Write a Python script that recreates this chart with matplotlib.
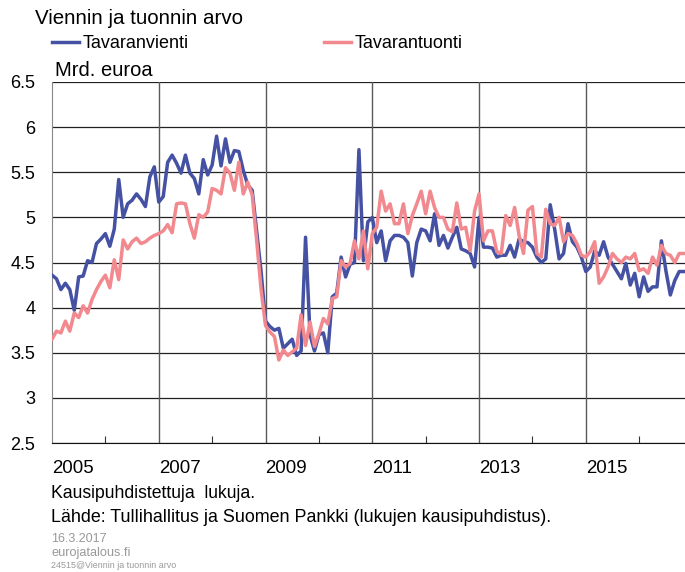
import numpy as np
import matplotlib
matplotlib.use("Agg")
import matplotlib.pyplot as plt
from matplotlib.ticker import FixedLocator

plt.rcParams['font.family'] = ['Liberation Sans', 'DejaVu Sans']

# monthly values, Jan 2005 ->
start_year = 2005
vienti = [4.36, 4.32, 4.20, 4.27, 4.20, 3.97, 4.34, 4.35, 4.52, 4.50, 4.71, 4.76,
          4.82, 4.68, 4.87, 5.42, 5.00, 5.15, 5.19, 5.26, 5.20, 5.12, 5.45, 5.56,
          5.17, 5.23, 5.61, 5.69, 5.60, 5.49, 5.69, 5.49, 5.43, 5.26, 5.64, 5.47,
          5.58, 5.90, 5.57, 5.87, 5.61, 5.74, 5.73, 5.52, 5.36, 5.30, 4.85, 4.40,
          3.85, 3.79, 3.75, 3.77, 3.55, 3.60, 3.65, 3.47, 3.52, 4.78, 3.70, 3.52,
          3.70, 3.72, 3.50, 4.12, 4.16, 4.56, 4.34, 4.48, 4.50, 5.75, 4.52, 4.95,
          5.00, 4.72, 4.85, 4.52, 4.74, 4.80, 4.80, 4.78, 4.72, 4.35, 4.72, 4.87,
          4.85, 4.74, 5.04, 4.69, 4.80, 4.66, 4.78, 4.89, 4.65, 4.63, 4.60, 4.45,
          5.00, 4.67, 4.67, 4.66, 4.56, 4.58, 4.58, 4.69, 4.56, 4.76, 4.73, 4.72,
          4.67, 4.56, 4.50, 4.54, 5.14, 4.87, 4.54, 4.60, 4.93, 4.73, 4.67, 4.56,
          4.40, 4.45, 4.63, 4.58, 4.73, 4.56, 4.48, 4.40, 4.32, 4.49, 4.25, 4.38,
          4.12, 4.34, 4.18, 4.23, 4.23, 4.74, 4.41, 4.14, 4.30, 4.40, 4.40]
tuonti = [3.65, 3.74, 3.72, 3.85, 3.74, 3.94, 3.89, 4.02, 3.94, 4.09, 4.20, 4.29,
          4.36, 4.22, 4.53, 4.31, 4.75, 4.65, 4.73, 4.77, 4.71, 4.73, 4.77, 4.80,
          4.82, 4.85, 4.92, 4.83, 5.15, 5.16, 5.15, 4.93, 4.77, 5.03, 5.00, 5.06,
          5.32, 5.30, 5.26, 5.55, 5.49, 5.30, 5.61, 5.26, 5.39, 5.25, 4.75, 4.20,
          3.80, 3.73, 3.68, 3.42, 3.53, 3.47, 3.51, 3.55, 3.92, 3.58, 3.84, 3.57,
          3.71, 3.88, 3.82, 4.10, 4.12, 4.52, 4.45, 4.49, 4.74, 4.54, 4.85, 4.43,
          4.82, 4.89, 5.29, 5.07, 5.15, 4.93, 4.93, 5.15, 4.82, 5.02, 5.15, 5.29,
          5.04, 5.29, 5.11, 5.00, 5.00, 4.87, 4.84, 5.16, 4.87, 4.89, 4.63, 5.07,
          5.26, 4.74, 4.85, 4.85, 4.62, 4.60, 5.02, 4.91, 5.11, 4.80, 4.60, 5.08,
          5.12, 4.60, 4.56, 5.09, 4.93, 4.91, 5.00, 4.73, 4.82, 4.80, 4.71, 4.58,
          4.56, 4.62, 4.73, 4.27, 4.34, 4.45, 4.60, 4.54, 4.50, 4.56, 4.54, 4.60,
          4.41, 4.43, 4.38, 4.56, 4.47, 4.69, 4.60, 4.58, 4.50, 4.60, 4.60]
year_labels = ['2005', '2007', '2009', '2011', '2013', '2015']
y_ticks = [2.5, 3, 3.5, 4, 4.5, 5, 5.5, 6, 6.5]

W, H = 685, 572
fig = plt.figure(figsize=(W / 100, H / 100), dpi=100)
ax = fig.add_axes([52 / W, 1 - 443 / H, (W - 52) / W, (443 - 82) / H])

x = start_year + np.arange(len(vienti)) / 12
l1, = ax.plot(x, vienti, color='#4552A3', lw=2.5, solid_joinstyle='round', zorder=3)
l2, = ax.plot(x, tuonti, color='#F2898E', lw=2.5, solid_joinstyle='round', zorder=4)

ax.set_xlim(start_year, start_year + 142.3 / 12)
ax.set_ylim(2.5, 6.5)

ax.set_yticks(y_ticks)
ax.set_yticklabels(['%g' % v for v in y_ticks])
ax.tick_params(axis='y', length=0, pad=12, labelsize=13)

major = [int(s) for s in year_labels]
ax.xaxis.set_major_locator(FixedLocator(major))
ax.set_xticklabels(year_labels, ha='left')
ax.xaxis.set_minor_locator(FixedLocator([2006, 2008, 2010, 2012, 2014, 2016]))
ax.tick_params(axis='x', which='major', length=0, pad=12, labelsize=13.4)
ax.tick_params(axis='x', which='minor', direction='in', length=5, width=0.8, color='#333333')

for v in y_ticks:
    ax.axhline(v, color='#222222', lw=0.9, zorder=1)
for yr in major[1:]:
    ax.axvline(yr, color='#5a5a5a', lw=1.0, zorder=1)

for s in ['top', 'right']:
    ax.spines[s].set_visible(False)
ax.spines['left'].set_color('#888888')
ax.spines['bottom'].set_color('#111111')

fig.text(35 / W, 1 - 18 / H, 'Viennin ja tuonnin arvo', fontsize=14.8, va='center', ha='left')
fig.legend([l1, l2], ['Tavaranvienti', 'Tavarantuonti'], ncol=2, frameon=False,
           loc='upper left', bbox_to_anchor=(52 / W, 1 - 35 / H), borderpad=0,
           borderaxespad=0, fontsize=13, handlelength=1.5, handletextpad=0.2,
           columnspacing=7.5)
fig.text(55 / W, 1 - 71 / H, 'Mrd. euroa', fontsize=14.5, va='center', ha='left')

fig.text(51 / W, 1 - 494 / H, 'Kausipuhdistettuja  lukuja.', fontsize=12.7, va='center')
fig.text(51 / W, 1 - 517 / H, 'Lähde: Tullihallitus ja Suomen Pankki (lukujen kausipuhdistus).',
         fontsize=12.9, va='center')
fig.text(51 / W, 1 - 539 / H, '16.3.2017', fontsize=9, color='#999999', va='center')
fig.text(51 / W, 1 - 553 / H, 'eurojatalous.fi', fontsize=9.2, color='#999999', va='center')
fig.text(51 / W, 1 - 565 / H, '24515@Viennin ja tuonnin arvo', fontsize=6.4, color='#999999', va='center')

fig.savefig('out.png', dpi=100)
